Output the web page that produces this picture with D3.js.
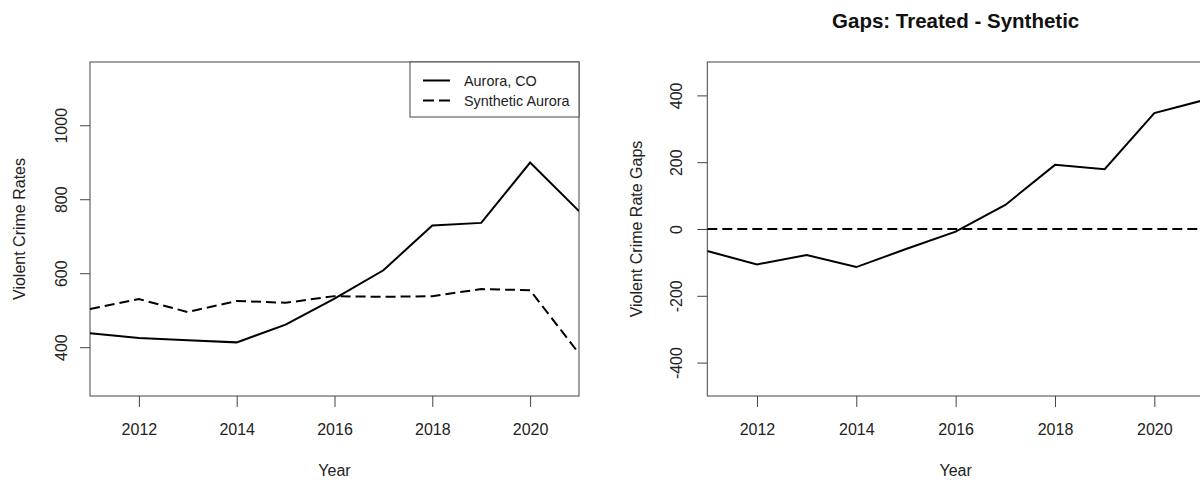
<!DOCTYPE html>
<html>
<head>
<meta charset="utf-8">
<script src="https://cdn.jsdelivr.net/npm/d3@7"></script>
<style>
  html, body { margin: 0; padding: 0; background: #fff; overflow: hidden; }
  svg { display: block; }
  text { font-family: "Liberation Sans", Arial, Helvetica, sans-serif; fill: #222; }
</style>
</head>
<body>
<svg id="chart" width="1200" height="483"></svg>
<script>
// ---- data ----
const years = [2011, 2012, 2013, 2014, 2015, 2016, 2017, 2018, 2019, 2020, 2021];
const aurora = [438, 425, 419, 413, 461, 531, 608, 729, 736, 899, 768];
const synthetic = [503, 530, 495, 525, 520, 538, 536, 538, 557, 554, 383];
const gaps = [-66, -106, -78, -114, -60, -8, 72, 192, 179, 347, 386];
const xTicks = [2012, 2014, 2016, 2018, 2020];
const leftYTicks = [400, 600, 800, 1000];
const rightYTicks = [-400, -200, 0, 200, 400];
const legendLabels = ["Aurora, CO", "Synthetic Aurora"];
const rightTitle = "Gaps: Treated - Synthetic";

const svg = d3.select("#chart");
const FONT = 16;
const DASH = "10,5";
const fmt = d => String(d);

function panel(opts) {
  const g = svg.append("g");
  const x = d3.scaleLinear().domain([2011, 2021]).range([opts.x0, opts.x1]);
  const y = d3.scaleLinear().domain(opts.yDomain).range([opts.y1, opts.y0]);

  // x axis
  const xa = g.append("g").attr("transform", `translate(0,${opts.y1})`)
    .call(d3.axisBottom(x).tickValues(xTicks).tickSize(11).tickPadding(0).tickFormat(fmt));
  xa.select(".domain").remove();
  xa.selectAll(".tick line").attr("stroke", "#444").attr("stroke-width", 1);
  xa.selectAll(".tick text").attr("y", 0).attr("dy", null)
    .attr("transform", "translate(0,39)")
    .style("font-size", FONT + "px").style("fill", "#222")
    .style("font-family", '"Liberation Sans", Arial, sans-serif');

  // y axis
  const ya = g.append("g").attr("transform", `translate(${opts.x0},0)`)
    .call(d3.axisLeft(y).tickValues(opts.yTicks).tickSize(10).tickFormat(fmt));
  ya.select(".domain").remove();
  ya.selectAll(".tick line").attr("stroke", "#444").attr("stroke-width", 1);
  ya.selectAll(".tick text")
    .attr("x", null).attr("dy", null).attr("y", null)
    .attr("text-anchor", "middle")
    .attr("transform", `translate(${opts.yLabelX - opts.x0},0) rotate(-90)`)
    .style("font-size", FONT + "px").style("fill", "#222")
    .style("font-family", '"Liberation Sans", Arial, sans-serif');

  // box
  g.append("rect").attr("x", opts.x0).attr("y", opts.y0)
    .attr("width", opts.x1 - opts.x0).attr("height", opts.y1 - opts.y0)
    .attr("fill", "none").attr("stroke", "#444").attr("stroke-width", 1);

  // axis titles
  g.append("text").attr("x", (opts.x0 + opts.x1) / 2).attr("y", 476)
    .attr("text-anchor", "middle").style("font-size", FONT + "px").text("Year");
  g.append("text")
    .attr("transform", `translate(${opts.yTitleX},${(opts.y0 + opts.y1) / 2}) rotate(-90)`)
    .attr("text-anchor", "middle").style("font-size", FONT + "px").text(opts.yTitle);

  const clipId = "clip" + Math.round(opts.x0);
  g.append("clipPath").attr("id", clipId).append("rect")
    .attr("x", opts.x0).attr("y", opts.y0).attr("width", opts.x1 - opts.x0).attr("height", opts.y1 - opts.y0);
  const plot = g.append("g").attr("clip-path", `url(#${clipId})`);
  return { g, plot, x, y };
}

// ---- left panel ----
const L = panel({ x0: 90, x1: 579, y0: 62, y1: 396, yDomain: [268, 1171], yTicks: leftYTicks,
  yLabelX: 67, yTitleX: 25, yTitle: "Violent Crime Rates" });

const lineL = d3.line().x((d, i) => L.x(years[i])).y(d => L.y(d));
L.plot.append("path").datum(aurora).attr("d", lineL)
  .attr("fill", "none").attr("stroke", "#000").attr("stroke-width", 2);
L.plot.append("path").datum(synthetic).attr("d", lineL)
  .attr("fill", "none").attr("stroke", "#000").attr("stroke-width", 2).attr("stroke-dasharray", DASH);

// legend
const lg = L.g.append("g");
lg.append("rect").attr("x", 410).attr("y", 62).attr("width", 169).attr("height", 55)
  .attr("fill", "#fff").attr("stroke", "#444").attr("stroke-width", 1);
legendLabels.forEach((lab, i) => {
  const yy = 80.5 + i * 20;
  lg.append("line").attr("x1", 423).attr("x2", 450).attr("y1", yy).attr("y2", yy)
    .attr("stroke", "#000").attr("stroke-width", 2)
    .attr("stroke-dasharray", i === 1 ? "11,5" : null);
  lg.append("text").attr("x", 464).attr("y", yy + 5).style("font-size", "14.4px").text(lab);
});

// ---- right panel ----
const R = panel({ x0: 707.3, x1: 1204, y0: 62, y1: 396, yDomain: [-500, 500], yTicks: rightYTicks,
  yLabelX: 682, yTitleX: 641.5, yTitle: "Violent Crime Rate Gaps" });

const lineR = d3.line().x((d, i) => R.x(years[i])).y(d => R.y(d));
R.plot.append("path").datum(gaps).attr("d", lineR)
  .attr("fill", "none").attr("stroke", "#000").attr("stroke-width", 2);
R.plot.append("line").attr("x1", R.x(2011)).attr("x2", R.x(2021))
  .attr("y1", R.y(0)).attr("y2", R.y(0))
  .attr("stroke", "#000").attr("stroke-width", 2).attr("stroke-dasharray", DASH);

svg.append("text").attr("x", (707.3 + 1204) / 2).attr("y", 28)
  .attr("text-anchor", "middle").style("font-size", "20.5px").style("font-weight", "bold")
  .style("fill", "#111").text(rightTitle);
</script>
</body>
</html>
